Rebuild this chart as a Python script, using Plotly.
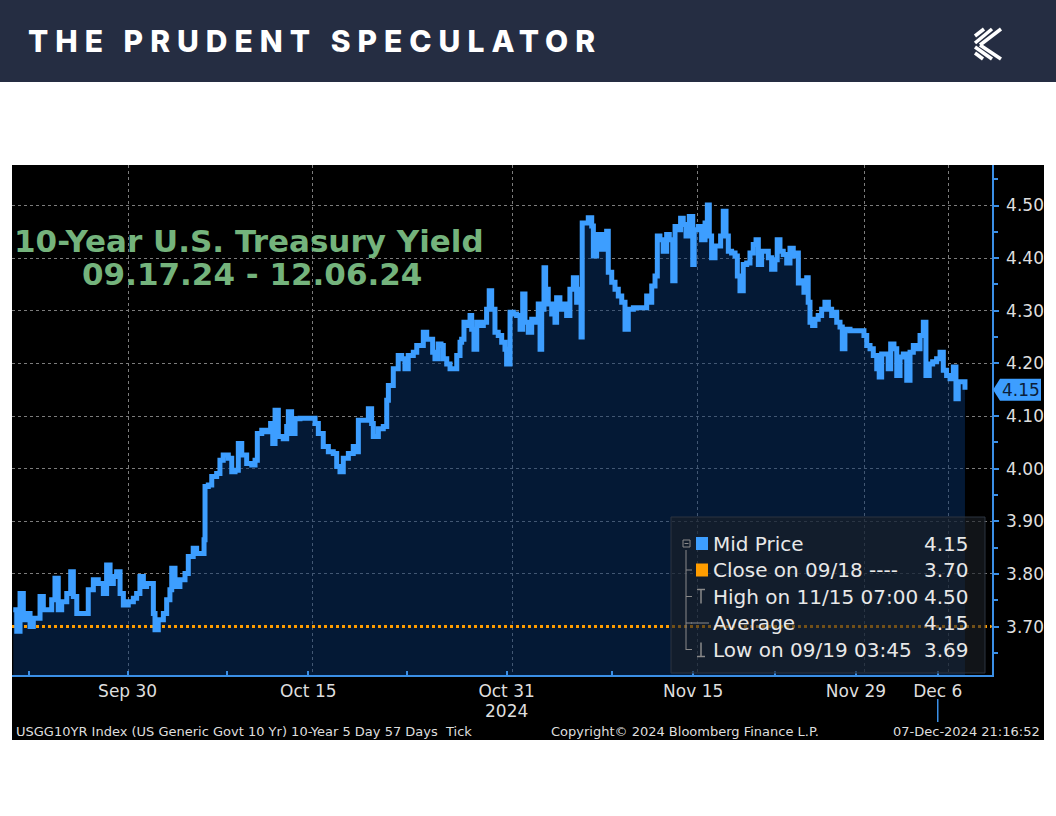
import plotly.graph_objects as go

W, H = 1056, 816

# x axis counts trading days from the left edge of the window (Bloomberg compresses weekends)
days = [
    0.08, 0.29, 0.49, 0.69, 0.90, 1.10, 1.30, 1.51, 1.71, 1.91,
    2.12, 2.42, 2.62, 2.82, 3.03, 3.34, 3.58, 3.74, 3.95, 4.25,
    4.45, 4.65, 4.96, 5.26, 5.57, 5.77, 5.98, 6.18, 6.38, 6.59,
    6.79, 7.09, 7.40, 7.60, 7.80, 8.01, 8.21, 8.41, 8.62, 8.72,
    8.92, 9.23, 9.43, 9.63, 9.74, 9.94, 10.24, 10.55, 10.75, 11.05,
    11.26, 11.57, 11.71, 11.77, 11.97, 12.18, 12.48, 12.68, 12.88, 13.19,
    13.40, 13.60, 13.80, 14.01, 14.31, 14.62, 14.82, 14.96, 15.23, 15.53,
    15.77, 15.90, 16.04, 16.24, 16.54, 16.75, 16.85, 17.05, 17.26, 17.56,
    18.17, 18.48, 18.68, 18.98, 19.29, 19.59, 19.80, 20.00, 20.20, 20.51,
    20.81, 21.02, 21.12, 21.42, 21.63, 21.73, 21.93, 22.03, 22.34, 22.64,
    22.85,
    22.95, 23.25, 23.55, 23.76, 23.96, 24.16, 24.47, 24.68, 24.88, 25.08,
    25.29, 25.49, 25.65, 25.79, 25.99, 26.16, 26.30, 26.51, 26.71, 26.91,
    27.12, 27.32, 27.42, 27.56, 27.73, 27.93, 28.03, 28.17, 28.34, 28.54,
    28.74, 28.94, 29.10, 29.25, 29.45, 29.65, 29.86, 30.06, 30.16, 30.37,
    30.57, 30.77, 30.98, 31.14, 31.28, 31.48, 31.69, 31.89, 32.09, 32.20,
    32.30, 32.44, 32.54, 32.70, 32.91, 33.11, 33.21, 33.41, 33.62, 33.82,
    34.02, 34.23, 34.43, 34.63, 34.70, 34.77, 34.94, 35.14, 35.35, 35.45,
    35.65, 35.85, 36.06, 36.26, 36.36, 36.57, 36.77, 36.97, 37.18, 37.38,
    37.58, 37.89, 38.29, 38.60,
    38.70, 38.86, 39.01, 39.21, 39.35, 39.51, 39.71, 39.92, 40.08, 40.29,
    40.43, 40.63, 40.77, 40.93, 41.10, 41.30, 41.51, 41.60, 41.85, 42.05,
    42.26, 42.40, 42.52, 42.66, 42.87, 43.07, 43.21, 43.37, 43.54, 43.68,
    43.88, 44.09, 44.23, 44.39, 44.59, 44.80, 45.00, 45.20, 45.37, 45.51,
    45.71, 45.91, 46.12, 46.32, 46.52, 46.66, 46.83, 47.03, 47.24, 47.44,
    47.64, 47.85, 47.95, 48.15, 48.29, 48.46, 48.55, 48.66, 48.82, 48.96,
    49.16, 49.37, 49.57, 49.78, 49.98, 50.14, 50.29, 50.49, 50.63, 50.79,
    51.10, 51.51, 51.81, 51.95, 52.12, 52.32, 52.52, 52.73, 52.88, 53.03,
    53.23, 53.43, 53.58, 53.78, 53.95, 54.15, 54.35, 54.56, 54.76, 54.96,
    55.16, 55.37, 55.57, 55.73, 55.93, 56.14, 56.38, 56.59, 56.79, 56.99,
    57.20, 57.40, 57.56, 57.70, 57.91, 58.11,
]

yields = [
    3.732, 3.691, 3.763, 3.713, 3.725, 3.700, 3.716, 3.716, 3.757, 3.732,
    3.732, 3.751, 3.792, 3.732, 3.747, 3.763, 3.804, 3.757, 3.725, 3.725,
    3.725, 3.770, 3.789, 3.782, 3.763, 3.817, 3.782, 3.795, 3.804, 3.763,
    3.741, 3.747, 3.754, 3.763, 3.795, 3.776, 3.782, 3.782, 3.725, 3.694,
    3.713, 3.725, 3.751, 3.770, 3.811, 3.776, 3.789, 3.801, 3.833, 3.849,
    3.839, 3.839, 3.865, 3.966, 3.969, 3.985, 3.991, 4.016, 4.026, 4.020,
    3.994, 3.997, 4.048, 4.026, 4.010, 4.007, 4.016, 4.067, 4.073, 4.070,
    4.086, 4.048, 4.111, 4.061, 4.057, 4.080, 4.108, 4.067, 4.095, 4.096,
    4.096, 4.086, 4.067, 4.042, 4.032, 4.029, 4.004, 3.994, 4.020, 4.029,
    4.042, 4.032, 4.092, 4.092, 4.092, 4.114, 4.086, 4.061, 4.076, 4.080,
    4.130,
    4.158, 4.190, 4.215, 4.209, 4.190, 4.215, 4.221, 4.234, 4.234, 4.259,
    4.246, 4.246, 4.221, 4.209, 4.237, 4.234, 4.209, 4.199, 4.190, 4.190,
    4.215, 4.240, 4.246, 4.278, 4.272, 4.291, 4.265, 4.227, 4.278, 4.272,
    4.278, 4.303, 4.338, 4.303, 4.259, 4.253, 4.240, 4.227, 4.199, 4.297,
    4.294, 4.291, 4.265, 4.332, 4.278, 4.259, 4.284, 4.278, 4.313, 4.227,
    4.303, 4.382, 4.341, 4.313, 4.294, 4.278, 4.325, 4.303, 4.313, 4.291,
    4.341, 4.363, 4.316, 4.341, 4.250, 4.467, 4.467, 4.477, 4.461, 4.404,
    4.445, 4.417, 4.445, 4.451, 4.373, 4.354, 4.341, 4.328, 4.316, 4.265,
    4.303, 4.306, 4.306, 4.306,
    4.328, 4.316, 4.347, 4.366, 4.442, 4.435, 4.413, 4.445, 4.435, 4.357,
    4.460, 4.454, 4.476, 4.464, 4.442, 4.479, 4.388, 4.454, 4.460, 4.435,
    4.467, 4.501, 4.442, 4.401, 4.423, 4.423, 4.442, 4.489, 4.442, 4.413,
    4.410, 4.404, 4.366, 4.338, 4.388, 4.391, 4.410, 4.426, 4.435, 4.388,
    4.413, 4.413, 4.401, 4.379, 4.397, 4.435, 4.413, 4.407, 4.391, 4.419,
    4.404, 4.410, 4.353, 4.357, 4.335, 4.363, 4.316, 4.278, 4.272, 4.284,
    4.291, 4.303, 4.316, 4.303, 4.291, 4.297, 4.278, 4.269, 4.228, 4.265,
    4.262, 4.262, 4.262, 4.253, 4.234, 4.228, 4.215, 4.190, 4.174, 4.218,
    4.218, 4.190, 4.237, 4.228, 4.177, 4.212, 4.218, 4.168, 4.221, 4.234,
    4.228, 4.253, 4.278, 4.177, 4.199, 4.203, 4.209, 4.221, 4.187, 4.177,
    4.171, 4.193, 4.133, 4.165, 4.165, 4.150,
]
assert len(days) == len(yields)

tick_days = [1.04, 7.05, 13.09, 18.07, 24.10, 30.16, 36.57, 41.54, 46.52, 51.46, 56.45]
tick_labels = ['', 'Sep 30', '', 'Oct 15', '', 'Oct 31', '', 'Nov 15', '', 'Nov 29', 'Dec 6']
grid_days = [7.13, 18.34, 30.53, 41.79, 52.01, 57.09]
year_label = '2024'
year_day = 30.16
y_ticks = [3.70, 3.80, 3.90, 4.00, 4.10, 4.20, 4.30, 4.40, 4.50]
close_0918 = 3.70

legend_labels = ['Mid Price', 'Close on 09/18 ----', 'High on 11/15 07:00', 'Average', 'Low on 09/19 03:45']
legend_values = ['4.15', '3.70', '4.50', '4.15', '3.69']

BLUE = '#3d9eff'
AXIS_BLUE = '#3b8fe6'
ORANGE = '#ff9d00'
GRID = '#7c7c7c'
TXT = '#dedede'
FONT = 'DejaVu Sans'

X_MAX = 59.74
Y_RANGE = [3.608, 4.577]


def px(x):
    return x / W


def py(y):
    return 1 - y / H


def rect(x0, y0, x1, y1, fill, line=None, layer='below'):
    return dict(type='rect', xref='paper', yref='paper',
                x0=px(x0), x1=px(x1), y0=py(y1), y1=py(y0),
                fillcolor=fill, line=dict(width=1 if line else 0, color=line or fill), layer=layer)


def seg(x0, y0, x1, y1, color, width=1.5, layer='above'):
    return dict(type='line', xref='paper', yref='paper',
                x0=px(x0), x1=px(x1), y0=py(y0), y1=py(y1),
                line=dict(color=color, width=width), layer=layer)


fig = go.Figure()

# area under the curve
fig.add_trace(go.Scatter(
    x=days, y=yields, mode='lines', line=dict(width=0, shape='hv'),
    fill='tozeroy', fillcolor='rgba(8,50,105,0.5)', hoverinfo='skip', showlegend=False,
))
# close on 09/18 reference line
fig.add_trace(go.Scatter(
    x=[0, X_MAX], y=[close_0918, close_0918], mode='lines',
    line=dict(color=ORANGE, width=3, dash='dot'), hoverinfo='skip', showlegend=False,
))
fig.add_trace(go.Scatter(
    x=days, y=yields, mode='lines', line=dict(color=BLUE, width=5, shape='hv'),
    hoverinfo='skip', showlegend=False,
))
# right-pointing tick markers on the price axis
fig.add_trace(go.Scatter(
    x=[X_MAX + 0.2] * len(y_ticks), y=y_ticks, mode='markers', xaxis='x2',
    marker=dict(symbol='triangle-right', size=7, color=AXIS_BLUE),
    cliponaxis=False, hoverinfo='skip', showlegend=False,
))

shapes = [
    rect(0, 0, W, 82, '#252d42'),
    rect(12, 165, 1044, 740, '#000000'),
]

# logo (stylised K)
logo = [((984, 29), (975, 36)), ((992, 29), (975, 43)), ((1001, 29), (980, 45)),
        ((980, 45), (1001, 59)), ((975, 47), (992, 59)), ((975, 53), (983, 59))]
for (a, b) in logo:
    shapes.append(seg(a[0], a[1], b[0], b[1], 'white', width=3.5, layer='above'))

# legend panel
shapes.append(rect(671, 517, 985, 673, 'rgba(28,32,38,0.62)', line='#2c3440', layer='above'))
row_y = [543.5, 570, 596.5, 623, 649.5]
tree = '#8a8a8a'
shapes += [
    seg(686, 550, 686, 650, tree, 1),
    rect(683, 540, 690, 547, 'rgba(0,0,0,0)', line=tree, layer='above'),
    seg(684.5, 543.5, 688.5, 543.5, tree, 1),
]
for ry in row_y[1:]:
    shapes.append(seg(686, ry, 692, ry, tree, 1))
shapes += [
    rect(696, row_y[0] - 6.5, 708, row_y[0] + 6.5, BLUE, layer='above'),
    rect(696, row_y[1] - 6.5, 708, row_y[1] + 6.5, ORANGE, layer='above'),
    seg(697, row_y[2] - 7, 705, row_y[2] - 7, tree, 1.5),
    seg(701, row_y[2] - 7, 701, row_y[2] + 7, tree, 1.5),
    seg(691, row_y[3], 709, row_y[3], tree, 1),
    seg(701, row_y[4] - 7, 701, row_y[4] + 7, tree, 1.5),
    seg(697, row_y[4] + 7, 705, row_y[4] + 7, tree, 1.5),
]

# marker under Dec 6
shapes.append(dict(type='line', xref='x', yref='paper', x0=tick_days[-1], x1=tick_days[-1],
                   y0=py(722), y1=py(699), line=dict(color=AXIS_BLUE, width=1.5)))

# last price box on the axis
last = yields[-1]
hb = 0.021
shapes.append(dict(
    type='path', xref='paper', yref='y', layer='above',
    path=(f'M {px(993)},{last} L {px(1000)},{last + hb} L {px(1041)},{last + hb} '
          f'L {px(1041)},{last - hb} L {px(1000)},{last - hb} Z'),
    fillcolor=BLUE, line=dict(width=0),
))

annotations = [
    dict(x=px(26), y=py(41), xref='paper', yref='paper', xanchor='left', yanchor='middle',
         text='<span style="letter-spacing:7px">THE PRUDENT SPECULATOR</span>',
         showarrow=False, font=dict(family='Inter', size=30, color='white', weight=800)),
    dict(x=px(12), y=py(241), xref='paper', yref='paper', xanchor='left', yanchor='middle',
         text='<b>10-Year U.S. Treasury Yield</b>', showarrow=False,
         font=dict(family=FONT, size=31, color='#74b37c')),
    dict(x=px(252), y=py(274), xref='paper', yref='paper', xanchor='center', yanchor='middle',
         text='<b>09.17.24 - 12.06.24</b>', showarrow=False,
         font=dict(family=FONT, size=31, color='#74b37c')),
    dict(x=year_day, y=py(711), xref='x', yref='paper', xanchor='center', yanchor='middle',
         text=year_label, showarrow=False, font=dict(family=FONT, size=17, color=TXT)),
    dict(x=px(14), y=py(731), xref='paper', yref='paper', xanchor='left', yanchor='middle',
         text='USGG10YR Index (US Generic Govt 10 Yr) 10-Year 5 Day 57 Days&nbsp;&nbsp;Tick',
         showarrow=False, font=dict(family=FONT, size=13, color=TXT)),
    dict(x=px(685), y=py(731), xref='paper', yref='paper', xanchor='center', yanchor='middle',
         text='Copyright© 2024 Bloomberg Finance L.P.', showarrow=False,
         font=dict(family=FONT, size=13, color=TXT)),
    dict(x=px(1042), y=py(731), xref='paper', yref='paper', xanchor='right', yanchor='middle',
         text='07-Dec-2024 21:16:52', showarrow=False, font=dict(family=FONT, size=13, color=TXT)),
    dict(x=px(1021), y=last, xref='paper', yref='y', xanchor='center', yanchor='middle',
         text=f'{last:.2f}', showarrow=False, font=dict(family=FONT, size=17, color='#0b1f3a')),
]
for ry, lab, val in zip(row_y, legend_labels, legend_values):
    annotations.append(dict(x=px(711), y=py(ry), xref='paper', yref='paper', xanchor='left',
                            yanchor='middle', text=lab, showarrow=False,
                            font=dict(family=FONT, size=20, color='#e8e8e8')))
    annotations.append(dict(x=px(971), y=py(ry), xref='paper', yref='paper', xanchor='right',
                            yanchor='middle', text=val, showarrow=False,
                            font=dict(family=FONT, size=20, color='#e8e8e8')))

fig.update_layout(
    width=W, height=H,
    margin=dict(l=0, r=0, t=0, b=0),
    paper_bgcolor='white',
    plot_bgcolor='black',
    showlegend=False,
    shapes=shapes,
    annotations=annotations,
    xaxis=dict(
        domain=[px(12), px(991.7)], range=[0, X_MAX],
        tickmode='array', tickvals=grid_days, showticklabels=False, ticks='',
        showgrid=True, gridcolor=GRID, griddash='dot', gridwidth=1,
        zeroline=False, showline=False, fixedrange=True,
    ),
    xaxis2=dict(
        overlaying='x', anchor='y', side='bottom', range=[0, X_MAX],
        tickmode='array', tickvals=tick_days, ticktext=tick_labels,
        ticks='inside', ticklen=4, tickwidth=1.5, tickcolor=AXIS_BLUE,
        showline=True, linecolor=AXIS_BLUE, linewidth=2, showgrid=False, zeroline=False,
        tickfont=dict(family=FONT, size=17, color=TXT), fixedrange=True,
    ),
    yaxis=dict(
        domain=[py(675), py(165)], range=Y_RANGE, side='right',
        tickmode='array', tickvals=y_ticks, ticktext=[f'{v:.2f}' for v in y_ticks],
        ticks='outside', ticklen=5, tickwidth=1.5, tickcolor=AXIS_BLUE,
        minor=dict(tickmode='linear', tick0=3.65, dtick=0.05, ticks='outside', ticklen=4,
                   tickcolor=AXIS_BLUE, showgrid=False),
        showline=True, linecolor=AXIS_BLUE, linewidth=2,
        showgrid=True, gridcolor=GRID, griddash='dot', gridwidth=1,
        zeroline=False, ticklabelstandoff=4,
        tickfont=dict(family=FONT, size=17, color=TXT), fixedrange=True,
    ),
)

# drop the browser's default body margin so the figure sits at the page origin
fig.write_html('out.html', config={'displayModeBar': False},
               post_script="document.body.style.margin='0';")
